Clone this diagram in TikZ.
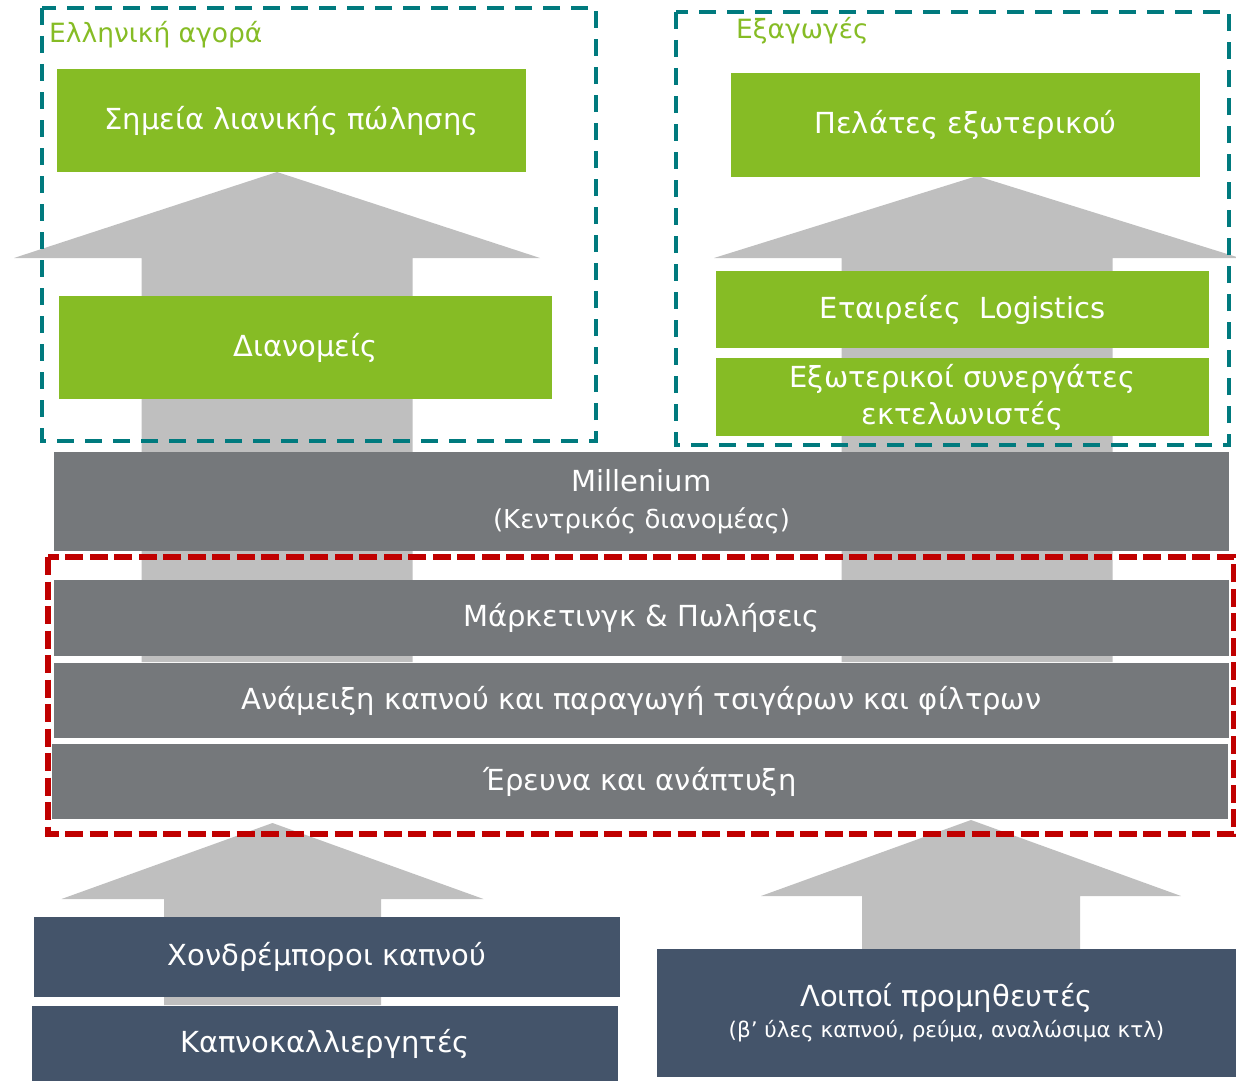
\documentclass[tikz,border=0pt]{standalone}
\usepackage{fontspec}
\setmainfont{DejaVu Sans}
\definecolor{lgreen}{HTML}{86BC25}
\definecolor{midgray}{HTML}{75787B}
\definecolor{slate}{HTML}{44546A}
\definecolor{arrgray}{HTML}{BFBFBF}
\definecolor{teal}{HTML}{007A7E}
\definecolor{dred}{HTML}{C00000}

\begin{document}
\begin{tikzpicture}[x=1pt,y=-1pt,
  box/.style n args={2}{rectangle,inner sep=0pt,align=center,text=white,minimum width=#1pt,minimum height=#2pt,font=\fontsize{29}{37}\selectfont},
  grnbox/.style n args={2}{box={#1}{#2},fill=lgreen},
  grybox/.style n args={2}{box={#1}{#2},fill=midgray},
  dkbox/.style n args={2}{box={#1}{#2},fill=slate},
  frame/.style={#1,line width=3.5pt,dash pattern=on 17pt off 11pt},
  lbl/.style={text=lgreen,anchor=west,inner sep=0pt,font=\fontsize{26.5}{30}\selectfont}]
\useasboundingbox (0,0) rectangle (1236,1081);
% big gray arrows behind everything
\foreach \cx/\ty/\by/\ey/\hw/\sw in %
{277/172/258/662/263/135.5,977/176/258/662/263/135.5,272.5/823/899/1005/211/108.5,971/820/896/949/210/109} {
   \fill[arrgray] (\cx-\sw,\ey) -- (\cx-\sw,\by) -- (\cx-\hw,\by) -- (\cx,\ty)
      -- (\cx+\hw,\by) -- (\cx+\sw,\by) -- (\cx+\sw,\ey) -- cycle;
}
% greek market
\node[grnbox={469}{103}] (retail) at (291.5,120.5) {Σημεία λιανικής πώλησης};
\node[grnbox={493}{103}] (distrib) at (305.5,347.5) {Διανομείς};
% exports
\node[grnbox={469}{104}] (abroad) at (965.5,125) {Πελάτες εξωτερικού};
\node[grnbox={493}{77}] (logist) at (962.5,309.5) {Εταιρείες~~Logistics};
\node[grnbox={493}{78}] (customs) at (962.5,397) {Εξωτερικοί συνεργάτες\\εκτελωνιστές};
% company
\node[grybox={1175}{99}] (millen) at (641.5,501.5) {Millenium\\{\fontsize{26}{26}\selectfont(Κεντρικός διανομέας)}};
\node[grybox={1175}{76}] (market) at (641.5,618) {Μάρκετινγκ \& Πωλήσεις};
\node[grybox={1175}{75}] (blend) at (641.5,700.5) {Ανάμειξη καπνού και παραγωγή τσιγάρων και φίλτρων};
\node[grybox={1176}{75}] (rnd) at (640,781.5) {Έρευνα και ανάπτυξη};
% suppliers
\node[dkbox={586}{80}] (whole) at (327,957) {Χονδρέμποροι καπνού};
\node[dkbox={586}{75}] (growers) at (325,1043.5) {Καπνοκαλλιεργητές};
\node[dkbox={579}{128}] (suppl) at (946.5,1013) {Λοιποί προμηθευτές\\[-6pt]{\fontsize{21.5}{21.5}\selectfont(β’ ύλες καπνού, ρεύμα, αναλώσιμα κτλ)}};
% frames
\draw[frame=teal] (42,8) rectangle (596,441);
\draw[frame=teal] (676,12) rectangle (1229,445);
\draw[dred,line width=5.5pt,dash pattern=on 18pt off 6.5pt] (48,557) rectangle (1234,834);
\node[lbl] (grk) at (49,35) {Ελληνική αγορά};
\node[lbl] (exp) at (736,31) {Εξαγωγές};
\end{tikzpicture}
\end{document}
